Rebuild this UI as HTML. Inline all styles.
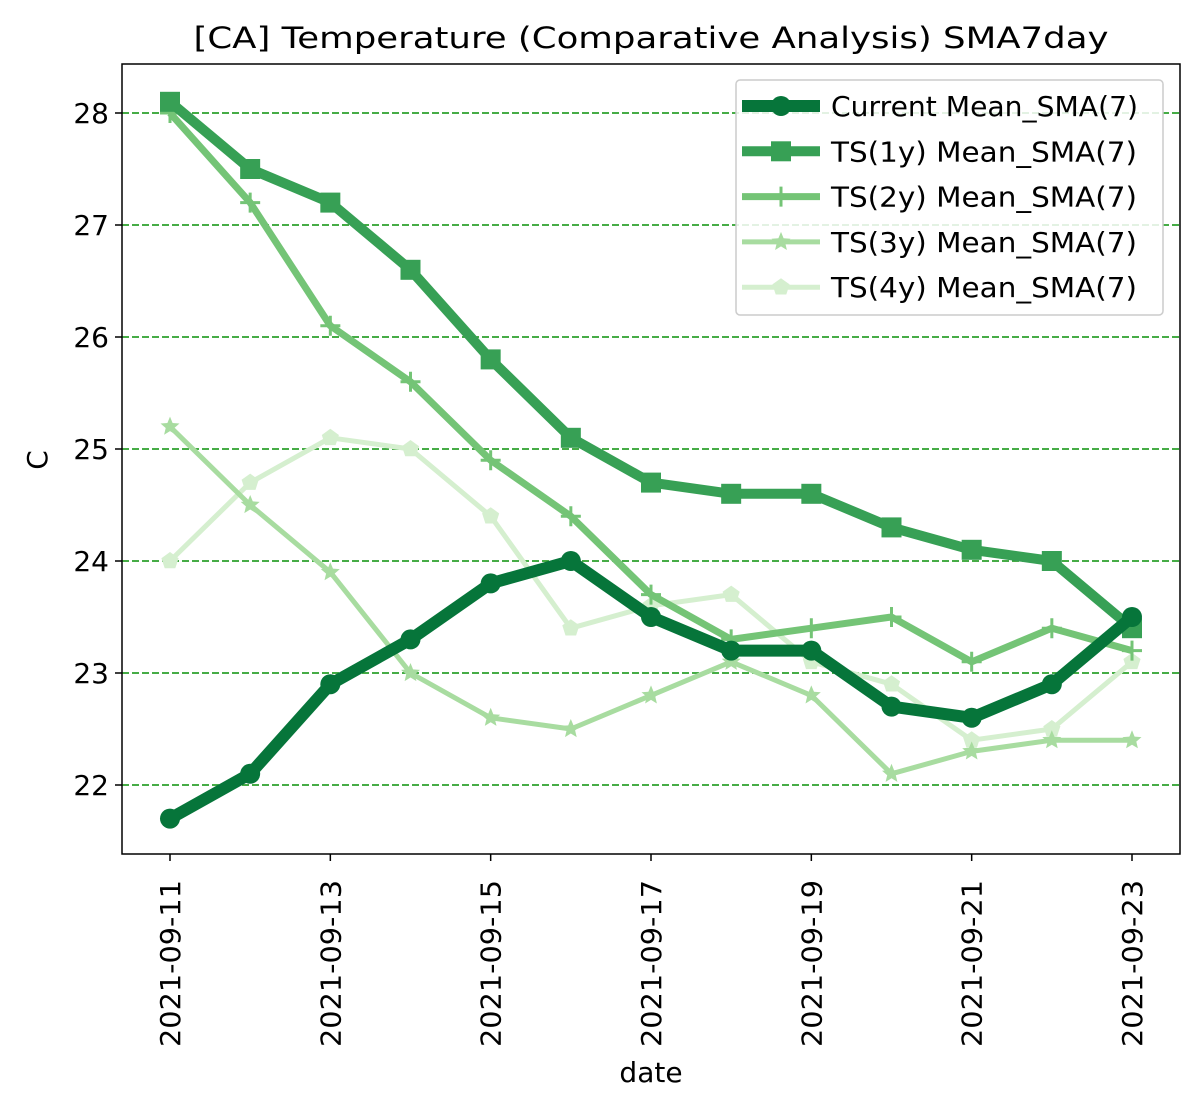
<!DOCTYPE html>
<html><head><meta charset="utf-8"><style>
body{margin:0;background:#fff}
svg text{font-family:"DejaVu Sans","Liberation Sans",sans-serif;fill:#000}
</style></head><body>
<svg id="chart" width="1200" height="1110" xmlns="http://www.w3.org/2000/svg">
<rect width="1200" height="1110" fill="#fff"/>
<text x="651" y="48" font-size="29" text-anchor="middle" textLength="915" lengthAdjust="spacingAndGlyphs">[CA] Temperature (Comparative Analysis) SMA7day</text>
<g id="grid"></g><g id="series"></g><g id="axes"></g><g id="legend"></g>
<text x="651" y="1082" font-size="28" text-anchor="middle">date</text>
<text transform="translate(47,460) rotate(-90)" font-size="28" text-anchor="middle">C</text>
</svg>
<script>
const dates=["2021-09-11","2021-09-12","2021-09-13","2021-09-14","2021-09-15","2021-09-16","2021-09-17","2021-09-18","2021-09-19","2021-09-20","2021-09-21","2021-09-22","2021-09-23"];
const current=[21.7,22.1,22.9,23.3,23.8,24.0,23.5,23.2,23.2,22.7,22.6,22.9,23.5];
const ts1=[28.1,27.5,27.2,26.6,25.8,25.1,24.7,24.6,24.6,24.3,24.1,24.0,23.4];
const ts2=[28.0,27.2,26.1,25.6,24.9,24.4,23.7,23.3,23.4,23.5,23.1,23.4,23.2];
const ts3=[25.2,24.5,23.9,23.0,22.6,22.5,22.8,23.1,22.8,22.1,22.3,22.4,22.4];
const ts4=[24.0,24.7,25.1,25.0,24.4,23.4,23.6,23.7,23.1,22.9,22.4,22.5,23.1];
const yTicks=[22,23,24,25,26,27,28];
const xTickIdx=[0,2,4,6,8,10,12];
const names=["Current Mean_SMA(7)","TS(1y) Mean_SMA(7)","TS(2y) Mean_SMA(7)","TS(3y) Mean_SMA(7)","TS(4y) Mean_SMA(7)"];
const NS="http://www.w3.org/2000/svg";
const L=122,R=1180,T=64,B=854;
const x=i=>170+i*(1132-170)/12;
const y=v=>785-(v-22)*112;
function mk(t,a,p){const e=document.createElementNS(NS,t);for(const k in a)e.setAttribute(k,a[k]);p.appendChild(e);return e;}
const grid=document.getElementById('grid'),axes=document.getElementById('axes'),ser=document.getElementById('series'),leg=document.getElementById('legend');
yTicks.forEach(v=>{
 const g=mk('line',{x1:L,x2:R,y1:y(v),y2:y(v),stroke:'#2ca02c','stroke-width':1.8,'stroke-dasharray':'7,3'},grid);
 
 
 mk('line',{x1:L-7,x2:L,y1:y(v),y2:y(v),stroke:'#000','stroke-width':1.5},axes);
 const t=mk('text',{x:L-13,y:y(v)+10,'font-size':28,'text-anchor':'end'},axes);t.textContent=v;
 
 
});
xTickIdx.forEach(i=>{
 mk('line',{x1:x(i),x2:x(i),y1:B,y2:B+7,stroke:'#000','stroke-width':1.5},axes);
 const t=mk('text',{transform:`translate(${x(i)+10},${B+26}) rotate(-90)`,'font-size':28,'text-anchor':'end',textLength:167,lengthAdjust:'spacingAndGlyphs'},axes);t.textContent=dates[i];
 
 
});
mk('rect',{x:L,y:T,width:R-L,height:B-T,fill:'none',stroke:'#000','stroke-width':1.5},axes);
function marker(type,cx,cy,c,p,s){
 if(type==='o')return mk('circle',{cx,cy,r:s,fill:c},p);
 if(type==='s')return mk('rect',{x:cx-s,y:cy-s,width:2*s,height:2*s,fill:c},p);
 if(type==='+')return mk('path',{d:`M${cx-s},${cy}H${cx+s}M${cx},${cy-s}V${cy+s}`,stroke:c,'stroke-width':3},p);
 let pts=[];const n=type==='*'?10:5;
 for(let k=0;k<n;k++){const r=type==='*'?(k%2?s*0.45:s):s;const a=-Math.PI/2+k*2*Math.PI/n;pts.push((cx+r*Math.cos(a)).toFixed(1)+','+(cy+r*Math.sin(a)).toFixed(1));}
 return mk('polygon',{points:pts.join(' '),fill:c},p);
}
const cfg=[[ts4,'#d5efcf',5,'p',9],[ts3,'#a8dca0',5,'*',10],[ts2,'#74c476',7,'+',10],[ts1,'#37a055',10,'s',10],[current,'#06753a',12,'o',10]];
const slugs=['ts4','ts3','ts2','ts1','current'];
cfg.forEach((c,j)=>{
 const g=mk('g',{},ser);
 
 
 mk('polyline',{points:c[0].map((v,i)=>x(i)+','+y(v)).join(' '),fill:'none',stroke:c[1],'stroke-width':c[2],'stroke-linejoin':'round'},g);
 c[0].forEach((v,i)=>{const m=marker(c[3],x(i),y(v),c[1],g,c[4]);
 
 });
});
const lb=mk('rect',{x:736,y:80,width:427,height:235,rx:4,fill:'#fff','fill-opacity':0.85,stroke:'#ccc','stroke-width':1.5},leg);


const lc=cfg.slice().reverse();
const legLens=[307,306,306,306,306];
lc.forEach((c,k)=>{
 const g=mk('g',{},leg);
 
 
 const yy=106+k*45.3;
 mk('line',{x1:742,x2:820,y1:yy,y2:yy,stroke:c[1],'stroke-width':c[2]},g);
 marker(c[3],781,yy,c[1],g,c[4]);
 const t=mk('text',{x:831,y:yy+10,'font-size':28,textLength:legLens[k],lengthAdjust:'spacingAndGlyphs'},g);t.textContent=names[k];
});
</script>
</body></html>
